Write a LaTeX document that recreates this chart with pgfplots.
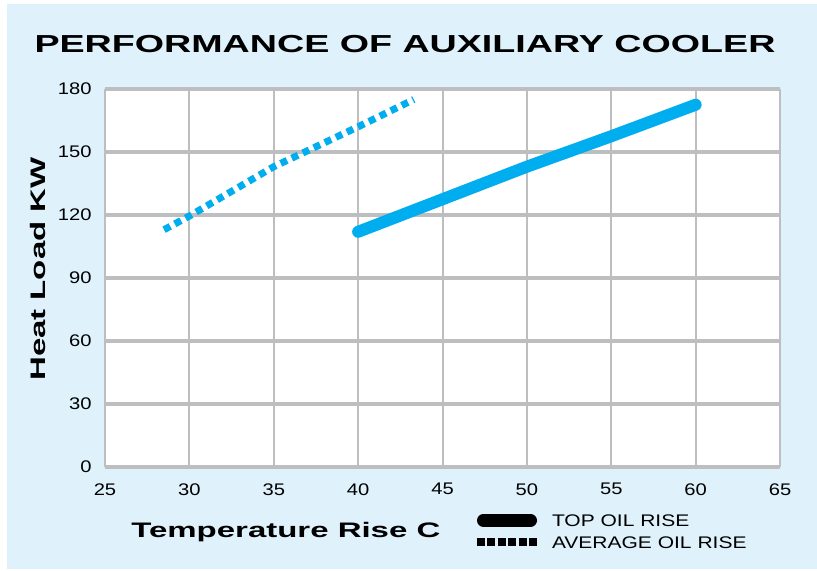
\documentclass[border=0pt]{standalone}
\usepackage{pgfplots}
\pgfplotsset{compat=1.18}
\usepackage{fontspec}
\setmainfont{Liberation Sans}
\newfontfamily\widefont{Liberation Sans}[FakeStretch=1.57]
\newfontfamily\titlefont{Liberation Sans}[FakeStretch=1.53]
\newfontfamily\tickfont{Liberation Sans}[FakeStretch=1.2]
\newfontfamily\legfont{Liberation Sans}[FakeStretch=1.25]
\definecolor{bgblue}{HTML}{DFF1FB}
\definecolor{lineblue}{HTML}{00AEEF}
\definecolor{gridgray}{HTML}{BCBEC0}
\begin{document}
\begin{tikzpicture}
\path[use as bounding box] (0pt,0pt) rectangle (408.5pt,285.5pt);
\fill[bgblue] (3.5pt,1pt) rectangle (408.5pt,283.5pt);
\node[anchor=base, inner sep=0pt, font=\titlefont\bfseries\fontsize{12.3}{14}\selectfont] at (202.5pt,259pt) {PERFORMANCE OF AUXILIARY COOLER};
\begin{axis}[
  at={(52.5pt,52pt)}, anchor=south west,
  scale only axis, width=337.5pt, height=189pt,
  xmin=25, xmax=65, ymin=0, ymax=180,
  xtick={25,30,...,65}, ytick={0,30,...,180},
  major tick length=0pt,
  axis background/.style={fill=white},
  axis line style={draw=none},
  grid=major,
  x grid style={gridgray, line width=1pt},
  y grid style={gridgray, line width=2pt},
  /pgf/number format/assume math mode=true,
  tick label style={font=\tickfont\fontsize{8.4}{10}\selectfont, text=black},
  yticklabel style={inner sep=0pt, anchor=east, xshift=-6.5pt},
  xticklabel style={inner sep=0pt, anchor=north, yshift=-8pt},
  xlabel={Temperature Rise C},
  ylabel={Heat Load KW},
  label style={font=\widefont\bfseries\fontsize{10.5}{12}\selectfont, inner sep=0pt},
  xlabel style={at={(axis description cs:0.268,-0.1878)}, anchor=base},
  ylabel style={at={(axis description cs:-0.0993,0.5238)}, anchor=center, rotate=0},
  clip=false,
  legend cell align=left,
  legend image code/.code={\draw[#1] (0pt,0pt) -- (30pt,0pt);},
  legend style={draw=none, fill=none, at={(axis description cs:0.5452,-0.124)}, anchor=north west,
    inner sep=0pt, outer sep=0pt, row sep=4.75pt,
    font=\legfont\fontsize{8.4}{10}\selectfont,
    nodes={inner sep=0pt, text height=6pt, text depth=0pt, anchor=west},
    /tikz/every odd column/.style={column sep=5.5pt}},
]
\addplot[lineblue, line width=6pt, line cap=round, forget plot] coordinates {
  (40,112) (45,127.5) (50,143) (55,157.5) (60,172.5)
};
\addplot[lineblue, line width=3.5pt, dash pattern=on 3.5pt off 2.6pt, forget plot] coordinates {
  (28.5,113) (30,119.5) (35,143) (40,162) (43.3,175)
};
\addlegendimage{legend image code/.code={\draw[black, line width=6.5pt, line cap=round] (3.25pt,0pt) -- (26.75pt,0pt);}}
\addlegendentry{TOP OIL RISE}
\addlegendimage{legend image code/.code={\draw[black, line width=4pt, dash pattern=on 4pt off 1.2pt] (0pt,0pt) -- (30pt,0pt);}}
\addlegendentry{AVERAGE OIL RISE}
\end{axis}
\end{tikzpicture}
\end{document}
